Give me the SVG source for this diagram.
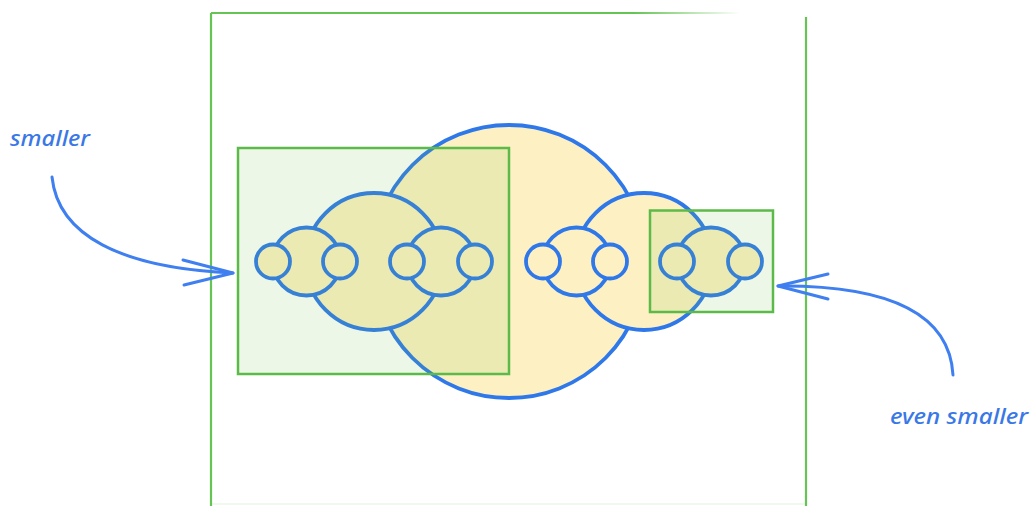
<svg xmlns="http://www.w3.org/2000/svg" width="1033" height="506" viewBox="0 0 1033 506">
<style>
.c{fill:#fdf0c2;stroke:#2f78ea;stroke-width:3.8}
.box{fill:#6cc04f;fill-opacity:0.13;stroke:#5cbb48;stroke-width:2.5}
.frame{fill:none;stroke:#66c455;stroke-width:2.2}
.arr{fill:none;stroke:#3f7ff0;stroke-width:3;stroke-linecap:round}
.lbl{font-family:"Noto Sans","DejaVu Sans",sans-serif;font-style:italic;font-weight:500;font-size:21px;fill:#3a78e6}
</style>
<defs>
<linearGradient id="fade" x1="211" y1="0" x2="740" y2="0" gradientUnits="userSpaceOnUse">
<stop offset="0" stop-color="#66c455"/>
<stop offset="0.8" stop-color="#66c455"/>
<stop offset="1" stop-color="#66c455" stop-opacity="0"/>
</linearGradient>
</defs>
<rect width="1033" height="506" fill="#ffffff"/>
<g id="frame">
<path class="frame" d="M211,506 L211,13"/>
<path d="M211,13 L740,13" fill="none" stroke="url(#fade)" stroke-width="2.2"/>
<path class="frame" d="M806,17 L806,506"/>
<path d="M211,504 L806,504" fill="none" stroke="#66c455" stroke-width="1" stroke-opacity="0.2"/>
</g>
<g id="big-circle"><circle class="c" cx="509" cy="261.5" r="136.5"/></g>
<g id="medium-left"><circle class="c" cx="374" cy="261.5" r="68.5"/></g>
<g id="medium-right"><circle class="c" cx="644" cy="261.5" r="68.5"/></g>
<g id="mid-1"><circle class="c" cx="306.5" cy="261.5" r="34"/></g>
<g id="mid-2"><circle class="c" cx="441" cy="261.5" r="34"/></g>
<g id="mid-3"><circle class="c" cx="576.5" cy="261.5" r="34"/></g>
<g id="mid-4"><circle class="c" cx="711" cy="261.5" r="34"/></g>
<g id="small-1"><circle class="c" cx="273" cy="261.5" r="17"/></g>
<g id="small-2"><circle class="c" cx="340" cy="261.5" r="17"/></g>
<g id="small-3"><circle class="c" cx="407" cy="261.5" r="17"/></g>
<g id="small-4"><circle class="c" cx="475" cy="261.5" r="17"/></g>
<g id="small-5"><circle class="c" cx="543" cy="261.5" r="17"/></g>
<g id="small-6"><circle class="c" cx="610" cy="261.5" r="17"/></g>
<g id="small-7"><circle class="c" cx="677" cy="261.5" r="17"/></g>
<g id="small-8"><circle class="c" cx="745" cy="261.5" r="17"/></g>
<g id="box-left"><rect class="box" x="238" y="148" width="271" height="226"/></g>
<g id="box-right"><rect class="box" x="650" y="210.5" width="123" height="101.5"/></g>
<g id="label-smaller"><text class="lbl" x="10" y="146" textLength="80" lengthAdjust="spacingAndGlyphs">smaller</text></g>
<g id="label-even-smaller"><text class="lbl" x="890" y="424" textLength="138" lengthAdjust="spacingAndGlyphs">even smaller</text></g>
<g id="connectors">
<path class="arr" d="M52,177 C58,235 120,268 233,273"/>
<path class="arr" d="M233,273 L183,260 M233,273 L184,285"/>
<path class="arr" d="M953,375 C950,320 900,285 778,286"/>
<path class="arr" d="M778,286 L828,274 M778,286 L828,299"/>
</g>
</svg>
